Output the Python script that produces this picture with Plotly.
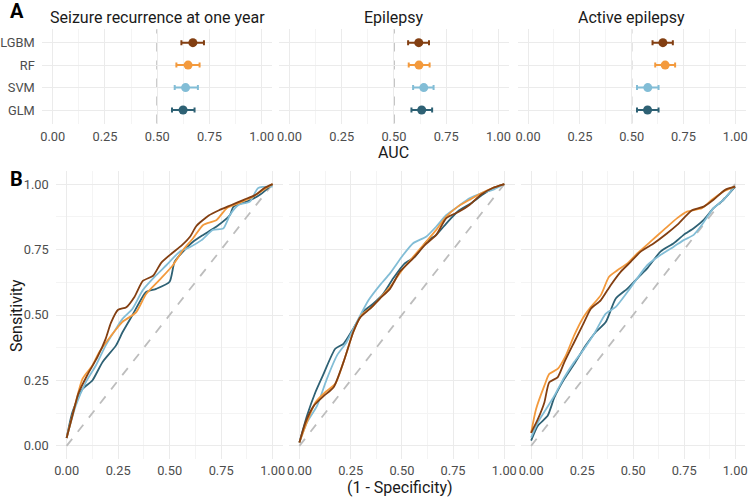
import plotly.graph_objects as go

W, H = 751, 497

# ---------------- data ----------------
outcomes = ["Seizure recurrence at one year", "Epilepsy", "Active epilepsy"]
models = ["GLM", "SVM", "RF", "LGBM"]          # bottom -> top
model_colors = ["#2e6174", "#82bdd6", "#f39a3d", "#833f12"]
auc_ticks = [0.0, 0.25, 0.5, 0.75, 1.0]
auc_tick_labels = ["0.00", "0.25", "0.50", "0.75", "1.00"]

# AUC point estimates and 95% CI, order = models
auc_seizure = [0.624, 0.636, 0.648, 0.671]
auc_seizure_lo = [0.571, 0.584, 0.592, 0.616]
auc_seizure_hi = [0.679, 0.695, 0.703, 0.724]

auc_epilepsy = [0.633, 0.643, 0.620, 0.619]
auc_epilepsy_lo = [0.584, 0.592, 0.571, 0.568]
auc_epilepsy_hi = [0.683, 0.690, 0.671, 0.668]

auc_active = [0.577, 0.578, 0.662, 0.651]
auc_active_lo = [0.526, 0.526, 0.614, 0.601]
auc_active_hi = [0.630, 0.630, 0.710, 0.699]

# ROC curves: seizure recurrence
roc_seiz_glm_fpr = [0, 0.028, 0.077, 0.125, 0.174, 0.24, 0.272, 0.32, 0.386, 0.435, 0.5, 0.524, 0.565, 0.614, 0.663, 0.728, 0.793, 0.81, 0.875, 0.94, 1]
roc_seiz_glm_tpr = [0.03, 0.128, 0.217, 0.25, 0.32, 0.384, 0.435, 0.5, 0.588, 0.6, 0.627, 0.703, 0.742, 0.78, 0.806, 0.838, 0.882, 0.914, 0.933, 0.96, 1]
roc_seiz_svm_fpr = [0, 0.044, 0.093, 0.142, 0.19, 0.24, 0.272, 0.32, 0.37, 0.435, 0.484, 0.549, 0.6, 0.655, 0.71, 0.76, 0.793, 0.834, 0.89, 0.93, 1]
roc_seiz_svm_tpr = [0.03, 0.153, 0.243, 0.307, 0.384, 0.448, 0.486, 0.524, 0.595, 0.652, 0.69, 0.742, 0.76, 0.786, 0.825, 0.83, 0.882, 0.92, 0.933, 0.985, 0.99]
roc_seiz_rf_fpr = [0, 0.036, 0.077, 0.125, 0.158, 0.215, 0.27, 0.337, 0.386, 0.45, 0.516, 0.565, 0.614, 0.663, 0.728, 0.777, 0.834, 0.89, 0.956, 1]
roc_seiz_rf_tpr = [0.03, 0.14, 0.256, 0.307, 0.358, 0.42, 0.473, 0.51, 0.58, 0.633, 0.69, 0.748, 0.793, 0.844, 0.863, 0.908, 0.927, 0.946, 0.978, 1]
roc_seiz_lgbm_fpr = [0, 0.028, 0.057, 0.1, 0.15, 0.19, 0.215, 0.25, 0.29, 0.33, 0.37, 0.42, 0.46, 0.51, 0.56, 0.6, 0.63, 0.69, 0.74, 0.8, 0.86, 0.92, 0.96, 1]
roc_seiz_lgbm_tpr = [0.03, 0.115, 0.2, 0.27, 0.34, 0.41, 0.47, 0.52, 0.53, 0.57, 0.63, 0.65, 0.7, 0.735, 0.767, 0.8, 0.84, 0.88, 0.9, 0.92, 0.94, 0.96, 0.985, 1]

# ROC curves: epilepsy
roc_epi_glm_fpr = [0, 0.037, 0.078, 0.118, 0.175, 0.215, 0.263, 0.312, 0.36, 0.41, 0.458, 0.514, 0.563, 0.62, 0.668, 0.725, 0.78, 0.838, 0.895, 0.95, 1]
roc_epi_glm_tpr = [0.013, 0.115, 0.205, 0.275, 0.371, 0.39, 0.448, 0.512, 0.543, 0.582, 0.64, 0.697, 0.722, 0.78, 0.806, 0.857, 0.9, 0.927, 0.96, 0.985, 1]
roc_epi_svm_fpr = [0, 0.037, 0.086, 0.134, 0.183, 0.23, 0.28, 0.337, 0.393, 0.442, 0.506, 0.555, 0.62, 0.668, 0.717, 0.773, 0.83, 0.887, 0.943, 0.99]
roc_epi_svm_tpr = [0.013, 0.09, 0.153, 0.256, 0.345, 0.396, 0.473, 0.556, 0.614, 0.659, 0.729, 0.774, 0.8, 0.838, 0.882, 0.914, 0.946, 0.965, 0.978, 0.997]
roc_epi_rf_fpr = [0, 0.03, 0.078, 0.126, 0.175, 0.215, 0.263, 0.304, 0.353, 0.4, 0.45, 0.5, 0.555, 0.612, 0.668, 0.717, 0.773, 0.83, 0.887, 0.943, 1]
roc_epi_rf_tpr = [0.013, 0.077, 0.166, 0.205, 0.237, 0.32, 0.435, 0.5, 0.53, 0.57, 0.614, 0.671, 0.722, 0.774, 0.825, 0.876, 0.914, 0.94, 0.965, 0.985, 1]
roc_epi_lgbm_fpr = [0, 0.03, 0.07, 0.118, 0.167, 0.215, 0.263, 0.296, 0.345, 0.393, 0.442, 0.49, 0.555, 0.612, 0.668, 0.717, 0.78, 0.83, 0.887, 0.943, 1]
roc_epi_lgbm_tpr = [0.013, 0.09, 0.153, 0.19, 0.224, 0.32, 0.435, 0.49, 0.524, 0.563, 0.6, 0.665, 0.716, 0.767, 0.806, 0.87, 0.895, 0.92, 0.96, 0.985, 1]

# ROC curves: active epilepsy
roc_act_glm_fpr = [0, 0.033, 0.081, 0.114, 0.163, 0.211, 0.268, 0.317, 0.366, 0.415, 0.472, 0.528, 0.569, 0.634, 0.699, 0.748, 0.797, 0.846, 0.894, 0.943, 1]
roc_act_glm_tpr = [0.02, 0.077, 0.115, 0.185, 0.256, 0.313, 0.384, 0.435, 0.473, 0.563, 0.601, 0.646, 0.678, 0.742, 0.774, 0.806, 0.831, 0.863, 0.908, 0.94, 0.99]
roc_act_svm_fpr = [0, 0.033, 0.073, 0.114, 0.163, 0.211, 0.26, 0.309, 0.366, 0.415, 0.472, 0.52, 0.569, 0.634, 0.699, 0.748, 0.797, 0.837, 0.894, 0.943, 0.992]
roc_act_svm_tpr = [0.032, 0.09, 0.14, 0.192, 0.262, 0.32, 0.371, 0.428, 0.505, 0.531, 0.588, 0.64, 0.69, 0.729, 0.761, 0.786, 0.806, 0.844, 0.908, 0.94, 0.985]
roc_act_rf_fpr = [0, 0.024, 0.065, 0.089, 0.13, 0.17, 0.211, 0.252, 0.293, 0.341, 0.382, 0.423, 0.472, 0.52, 0.585, 0.65, 0.716, 0.764, 0.837, 0.886, 0.943, 1]
roc_act_rf_tpr = [0.05, 0.14, 0.23, 0.275, 0.294, 0.345, 0.422, 0.486, 0.531, 0.575, 0.646, 0.671, 0.697, 0.735, 0.78, 0.825, 0.87, 0.895, 0.908, 0.94, 0.972, 0.99]
roc_act_lgbm_fpr = [0, 0.033, 0.065, 0.089, 0.13, 0.163, 0.211, 0.26, 0.293, 0.341, 0.39, 0.439, 0.488, 0.537, 0.602, 0.667, 0.716, 0.789, 0.846, 0.894, 0.951, 1]
roc_act_lgbm_tpr = [0.05, 0.102, 0.166, 0.243, 0.262, 0.32, 0.396, 0.473, 0.524, 0.556, 0.614, 0.665, 0.703, 0.742, 0.774, 0.812, 0.844, 0.9, 0.914, 0.94, 0.978, 0.99]

# ---------------- layout helpers ----------------
def xfrac(a, b):
    return [a / W, b / W]

def yfrac(top, bottom):
    return [1 - bottom / H, 1 - top / H]

A_x = [xfrac(40.5, 271.5), xfrac(278.5, 509.5), xfrac(518.5, 747.5)]
A_y = yfrac(29.2, 123.5)
B_x = [xfrac(54.6, 282.4), xfrac(288.7, 515.3), xfrac(521.7, 747.3)]
B_y = yfrac(171, 459)

FONT = "Roboto"
TICKC = "#4d4d4d"
TITLEC = "#1a1a1a"
GRID = "#ebebeb"
MINOR = "#f4f4f4"
TICKSIZE = 12.8
TITLESIZE = 16

fig = go.Figure()
layout = dict(width=W, height=H, margin=dict(l=0, r=0, t=0, b=0),
              paper_bgcolor="white", plot_bgcolor="white", showlegend=False,
              font=dict(family=FONT, size=TICKSIZE, color=TICKC))

auc_sets = [(auc_seizure, auc_seizure_lo, auc_seizure_hi),
            (auc_epilepsy, auc_epilepsy_lo, auc_epilepsy_hi),
            (auc_active, auc_active_lo, auc_active_hi)]

shapes = []
annotations = []

# ---- Panel A ----
for i in range(3):
    ax = i + 1
    xa = "x" if ax == 1 else f"x{ax}"
    ya = "y" if ax == 1 else f"y{ax}"
    est, lo, hi = auc_sets[i]
    shapes.append(dict(type="line", xref=xa, yref=f"{ya} domain", x0=0.5, x1=0.5, y0=0, y1=1,
                       line=dict(color="#8a8a8a", width=1.2, dash="dash"), layer="below"))
    for k, m in enumerate(models):
        fig.add_trace(go.Scatter(
            x=[est[k]], y=[k + 1], mode="markers", xaxis=xa, yaxis=ya,
            marker=dict(color=model_colors[k], size=9),
            error_x=dict(type="data", symmetric=False, array=[hi[k] - est[k]],
                         arrayminus=[est[k] - lo[k]], color=model_colors[k],
                         thickness=2, width=2.5),
            name=m))
    layout[f"xaxis{'' if ax == 1 else ax}"] = dict(
        domain=A_x[i], range=[-0.05, 1.05], anchor=ya, tickvals=auc_ticks, ticktext=auc_tick_labels,
        showgrid=True, gridcolor=GRID, gridwidth=1, zeroline=False, showline=False,
        ticks="outside", ticklen=1, tickcolor="rgba(0,0,0,0)",
        minor=dict(dtick=0.125, tick0=0.125, showgrid=True, gridcolor=MINOR, gridwidth=1),
        tickfont=dict(family=FONT, size=TICKSIZE, color=TICKC))
    layout[f"yaxis{'' if ax == 1 else ax}"] = dict(
        domain=A_y, range=[0.4, 4.6], anchor=xa, tickvals=[1, 2, 3, 4],
        ticktext=models if i == 0 else [""] * 4, showticklabels=(i == 0),
        showgrid=True, gridcolor=GRID, gridwidth=1, zeroline=False, showline=False,
        ticks="outside", ticklen=4, tickcolor="rgba(0,0,0,0)",
        tickfont=dict(family=FONT, size=TICKSIZE, color=TICKC))
    cx = (A_x[i][0] + A_x[i][1]) / 2
    annotations.append(dict(text=outcomes[i], x=cx, y=1 - 17 / H, xref="paper", yref="paper",
                            showarrow=False, xanchor="center", yanchor="middle",
                            font=dict(family=FONT, size=TITLESIZE, color=TITLEC)))

# ---- Panel B ----
roc_sets = [
    [(roc_seiz_glm_fpr, roc_seiz_glm_tpr), (roc_seiz_svm_fpr, roc_seiz_svm_tpr),
     (roc_seiz_rf_fpr, roc_seiz_rf_tpr), (roc_seiz_lgbm_fpr, roc_seiz_lgbm_tpr)],
    [(roc_epi_glm_fpr, roc_epi_glm_tpr), (roc_epi_svm_fpr, roc_epi_svm_tpr),
     (roc_epi_rf_fpr, roc_epi_rf_tpr), (roc_epi_lgbm_fpr, roc_epi_lgbm_tpr)],
    [(roc_act_glm_fpr, roc_act_glm_tpr), (roc_act_svm_fpr, roc_act_svm_tpr),
     (roc_act_rf_fpr, roc_act_rf_tpr), (roc_act_lgbm_fpr, roc_act_lgbm_tpr)],
]
for i in range(3):
    ax = i + 4
    xa, ya = f"x{ax}", f"y{ax}"
    fig.add_trace(go.Scatter(x=[0, 1], y=[0, 1], mode="lines", xaxis=xa, yaxis=ya,
                             line=dict(color="#bdbdbd", width=1.8, dash="dash"), hoverinfo="skip"))
    for k, m in enumerate(models):
        fpr, tpr = roc_sets[i][k]
        fig.add_trace(go.Scatter(x=fpr, y=tpr, mode="lines", xaxis=xa, yaxis=ya,
                                 line=dict(color=model_colors[k], width=1.8, shape="spline", smoothing=0.6),
                                 name=m))
    layout[f"xaxis{ax}"] = dict(
        domain=B_x[i], range=[-0.05, 1.05], anchor=ya, tickvals=auc_ticks, ticktext=auc_tick_labels,
        showgrid=True, gridcolor=GRID, gridwidth=1, zeroline=False, showline=False,
        ticks="outside", ticklen=0, tickcolor="rgba(0,0,0,0)",
        minor=dict(dtick=0.125, tick0=0.125, showgrid=True, gridcolor=MINOR, gridwidth=1),
        tickfont=dict(family=FONT, size=TICKSIZE, color=TICKC))
    layout[f"yaxis{ax}"] = dict(
        domain=B_y, range=[-0.05, 1.05], anchor=xa, tickvals=auc_ticks, ticktext=auc_tick_labels,
        showticklabels=(i == 0),
        showgrid=True, gridcolor=GRID, gridwidth=1, zeroline=False, showline=False,
        ticks="outside", ticklen=4, tickcolor="rgba(0,0,0,0)",
        minor=dict(dtick=0.125, tick0=0.125, showgrid=True, gridcolor=MINOR, gridwidth=1),
        tickfont=dict(family=FONT, size=TICKSIZE, color=TICKC))

# axis titles and panel letters
annotations += [
    dict(text="AUC", x=394 / W, y=1 - 152 / H, xref="paper", yref="paper", showarrow=False,
         xanchor="center", yanchor="middle", font=dict(family=FONT, size=TITLESIZE, color=TITLEC)),
    dict(text="(1 - Specificity)", x=400 / W, y=1 - 487 / H, xref="paper", yref="paper", showarrow=False,
         xanchor="center", yanchor="middle", font=dict(family=FONT, size=TITLESIZE, color=TITLEC)),
    dict(text="Sensitivity", x=14 / W, y=1 - 315 / H, xref="paper", yref="paper", showarrow=False,
         textangle=-90, xanchor="center", yanchor="middle", font=dict(family=FONT, size=TITLESIZE, color=TITLEC)),
    dict(text="<b>A</b>", x=15 / W, y=1 - 11 / H, xref="paper", yref="paper", showarrow=False,
         xanchor="center", yanchor="middle", font=dict(family=FONT, size=20, color="black")),
    dict(text="<b>B</b>", x=15 / W, y=1 - 179 / H, xref="paper", yref="paper", showarrow=False,
         xanchor="center", yanchor="middle", font=dict(family=FONT, size=20, color="black")),
]

layout["shapes"] = shapes
layout["annotations"] = annotations
fig.update_layout(**layout)
fig.write_html("out.html", config={"displayModeBar": False},
               post_script="document.body.style.margin='0';document.body.style.overflow='hidden';")
